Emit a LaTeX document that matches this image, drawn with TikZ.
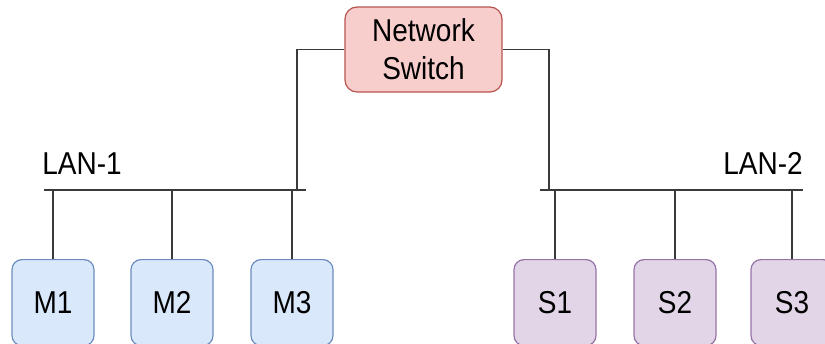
\documentclass[tikz,border=0pt]{standalone}
\usepackage{fontspec}
\usepackage{graphicx}
\setmainfont{Liberation Sans}
\definecolor{wire}{HTML}{3A3A3A}
\definecolor{swfill}{HTML}{F8CECC}
\definecolor{swdraw}{HTML}{B85450}
\definecolor{mfill}{HTML}{DAE8FC}
\definecolor{mdraw}{HTML}{6C8EBF}
\definecolor{sfill}{HTML}{E1D5E7}
\definecolor{sdraw}{HTML}{9673A6}
% labels are set a little taller than the plain font
\newcommand{\tall}[1]{\scalebox{1}[1.13]{#1}}
\begin{document}
\begin{tikzpicture}[x=1pt,y=-1pt,
  every node/.style={font=\fontsize{28}{41}\selectfont, inner sep=0pt},
  switchbox/.style={draw=swdraw, fill=swfill, line width=1.2pt, rounded corners=12pt,
    minimum width=157pt, minimum height=85pt, align=center},
  hostbox/.style={line width=1.2pt, rounded corners=10pt,
    minimum width=82pt, minimum height=86pt, anchor=north},
  mbox/.style={hostbox, draw=mdraw, fill=mfill},
  sbox/.style={hostbox, draw=sdraw, fill=sfill},
  wireline/.style={draw=wire, line width=1.7pt},
  lanlabel/.style={anchor=base}]
\useasboundingbox (0,0) rectangle (825,343);

% central switch
\node[switchbox] (sw) at (423.5,49.5) {\tall{Network}\\[-3pt]\tall{Switch}};

% bus ends
\coordinate (b1l) at (44,190);
\coordinate (b1r) at (306,190);
\coordinate (b2l) at (540,190);
\coordinate (b2r) at (803,190);
\coordinate (t1) at (297,190);
\coordinate (t2) at (549,190);

% hosts
\node[mbox] (m1) at (53,259) {\tall{M1}};
\node[mbox] (m2) at (172,259) {\tall{M2}};
\node[mbox] (m3) at (292,259) {\tall{M3}};
\node[sbox] (s1) at (555,259) {\tall{S1}};
\node[sbox] (s2) at (675,259) {\tall{S2}};
\node[sbox] (s3) at (792,259) {\tall{S3}};

% LAN labels
\node[lanlabel] (lan1) at (82,174) {\tall{LAN-1}};
\node[lanlabel] (lan2) at (763,174) {\tall{LAN-2}};

% buses
\draw[wireline] (b1l) -- (b1r);
\draw[wireline] (b2l) -- (b2r);

% switch uplinks
\draw[wireline] (sw.west) -| (t1);
\draw[wireline] (sw.east) -| (t2);

% host drops
\foreach \h in {m1,m2,m3} \draw[wireline] (\h.north) -- (\h.north |- b1l);
\foreach \h in {s1,s2,s3} \draw[wireline] (\h.north) -- (\h.north |- b2l);
\end{tikzpicture}
\end{document}
